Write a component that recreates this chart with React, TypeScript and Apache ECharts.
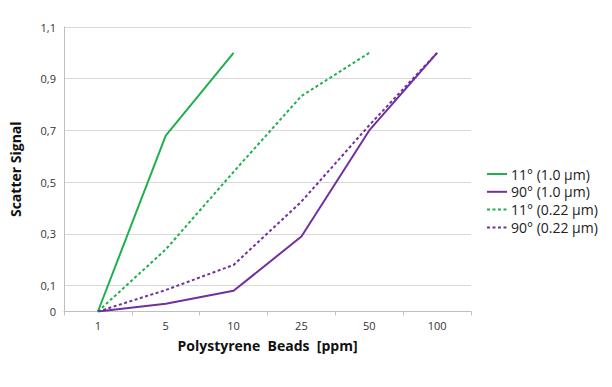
import React, { useEffect, useRef } from "react";
import * as echarts from "echarts";

const categories = ["1", "5", "10", "25", "50", "100"];
const green10 = [0, 0.68, 1.0, null, null, null];
const purple10 = [0, 0.03, 0.08, 0.29, 0.7, 1.0];
const green022 = [0, 0.24, 0.54, 0.833, 1.0, null];
const purple022 = [0, 0.083, 0.18, 0.425, 0.72, 1.0];
const seriesNames = ["11° (1.0 µm)", "90° (1.0 µm)", "11° (0.22 µm)", "90° (0.22 µm)"];

const GREEN = "#1fb04e";
const PURPLE = "#7030a0";
const FONT = "'Open Sans', 'Noto Sans', sans-serif";

export default function App() {
  const ref = useRef<HTMLDivElement>(null);
  useEffect(() => {
    if (!ref.current) return;
    const chart = echarts.init(ref.current, undefined, { renderer: "svg" });
    const mk = (name: string, data: any[], color: string, dashed: boolean) => ({
      name,
      type: "line",
      data,
      symbol: "none",
      connectNulls: false,
      lineStyle: { color, width: 2, type: dashed ? [3, 2.5] : "solid" },
      itemStyle: { color },
    });
    chart.setOption({
      animation: false,
      backgroundColor: "#ffffff",
      textStyle: { fontFamily: FONT },
      grid: { left: 63, right: 141, top: 27, bottom: 75.5, containLabel: false },
      legend: {
        orient: "vertical",
        left: 481,
        top: 162,
        itemWidth: 20,
        itemHeight: 14,
        itemGap: 3.8,
        data: seriesNames,
        itemStyle: { opacity: 0 },
        textStyle: { fontFamily: FONT, fontSize: 14, color: "#222", padding: [0, 0, 0, -1] },
      },
      xAxis: {
        type: "category",
        data: categories,
        boundaryGap: true,
        name: "Polystyrene  Beads  [ppm]",
        nameLocation: "middle",
        nameGap: 27,
        nameTextStyle: { fontFamily: FONT, fontSize: 14, fontWeight: "bold", color: "#111" },
        axisLine: { lineStyle: { color: "#bfbfbf", width: 1 } },
        axisTick: { show: true, alignWithLabel: false, length: 4, lineStyle: { color: "#bfbfbf" } },
        axisLabel: { fontFamily: FONT, fontSize: 11, color: "#333", margin: 8 },
        splitLine: { show: false },
      },
      yAxis: {
        type: "value",
        min: 0,
        max: 1.1,
        interval: 0.1,
        name: "Scatter Signal",
        nameLocation: "middle",
        nameRotate: 90,
        nameGap: 42,
        nameTextStyle: { fontFamily: FONT, fontSize: 14, fontWeight: "bold", color: "#111" },
        axisLine: { show: true, lineStyle: { color: "#bfbfbf", width: 1 } },
        axisTick: { show: false },
        axisLabel: {
          fontFamily: FONT,
          fontSize: 11,
          color: "#333",
          margin: 8,
          formatter: (v: number) => {
            const k = Math.round(v * 10);
            if (k === 0) return "0";
            if (k % 2 === 1) return (k / 10).toFixed(1).replace(".", ",");
            return "";
          },
        },
        splitLine: { show: true, lineStyle: { color: ["transparent", "#d9d9d9"], width: 1 } },
      },
      series: [
        mk(seriesNames[0], green10, GREEN, false),
        mk(seriesNames[1], purple10, PURPLE, false),
        mk(seriesNames[2], green022, GREEN, true),
        mk(seriesNames[3], purple022, PURPLE, true),
      ],
    });
    return () => chart.dispose();
  }, []);
  return (
    <div
      ref={ref}
      style={{ position: "fixed", left: 0, top: 0, width: 612, height: 387, background: "#fff" }}
    />
  );
}
